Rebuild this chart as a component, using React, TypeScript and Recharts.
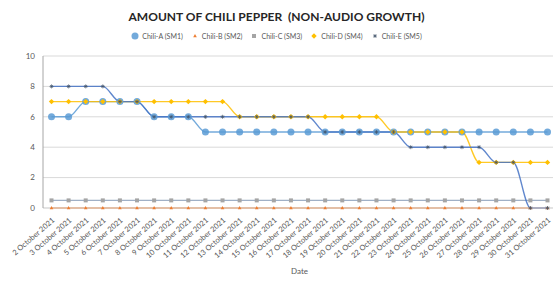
import { CartesianGrid, Line, LineChart, XAxis, YAxis } from "recharts";

const dates = Array.from({ length: 30 }, (_, i) => `${i + 2} October 2021`);

const chiliA = [6, 6, 7, 7, 7, 7, 6, 6, 6, 5, 5, 5, 5, 5, 5, 5, 5, 5, 5, 5, 5, 5, 5, 5, 5, 5, 5, 5, 5, 5];
const chiliB = [0, 0, 0, 0, 0, 0, 0, 0, 0, 0, 0, 0, 0, 0, 0, 0, 0, 0, 0, 0, 0, 0, 0, 0, 0, 0, 0, 0, 0, 0];
const chiliC = [0.5, 0.5, 0.5, 0.5, 0.5, 0.5, 0.5, 0.5, 0.5, 0.5, 0.5, 0.5, 0.5, 0.5, 0.5, 0.5, 0.5, 0.5, 0.5, 0.5, 0.5, 0.5, 0.5, 0.5, 0.5, 0.5, 0.5, 0.5, 0.5, 0.5];
const chiliD = [7, 7, 7, 7, 7, 7, 7, 7, 7, 7, 7, 6, 6, 6, 6, 6, 6, 6, 6, 6, 5, 5, 5, 5, 5, 3, 3, 3, 3, 3];
const chiliE = [8, 8, 8, 8, 7, 7, 6, 6, 6, 6, 6, 6, 6, 6, 6, 6, 5, 5, 5, 5, 5, 4, 4, 4, 4, 4, 3, 3, 0, 0];

const yTicks = [0, 2, 4, 6, 8, 10];

const data = dates.map((date, i) => ({
  date,
  a: chiliA[i],
  b: chiliB[i],
  c: chiliC[i],
  d: chiliD[i],
  e: chiliE[i],
}));

const FONT = "Lato, 'Open Sans', sans-serif";

const series = [
  { key: "a", name: "Chili-A (SM1)", line: "#5B9BD5", mark: "#5B9BD5", shape: "circle" },
  { key: "b", name: "Chili-B (SM2)", line: "#ED7D31", mark: "#ED7D31", shape: "triangle" },
  { key: "c", name: "Chili-C (SM3)", line: "#8FA2BC", mark: "#A5A5A5", shape: "square" },
  { key: "d", name: "Chili-D (SM4)", line: "#FFC000", mark: "#FFC000", shape: "diamond" },
  { key: "e", name: "Chili-E (SM5)", line: "#4472C4", mark: "#44546A", shape: "star" },
];

function marker(shape: string, cx: number, cy: number, color: string, key?: string) {
  if (shape === "circle") return <circle key={key} cx={cx} cy={cy} r={3.5} fill={color} fillOpacity={0.85} />;
  if (shape === "triangle")
    return <path key={key} d={`M${cx},${cy - 2}L${cx + 1.8},${cy + 1.3}L${cx - 1.8},${cy + 1.3}Z`} fill={color} />;
  if (shape === "square")
    return <rect key={key} x={cx - 2} y={cy - 2} width={4} height={4} fill={color} />;
  if (shape === "diamond")
    return <path key={key} d={`M${cx},${cy - 2.7}L${cx + 2.7},${cy}L${cx},${cy + 2.7}L${cx - 2.7},${cy}Z`} fill={color} />;
  return (
    <g key={key} stroke={color} strokeWidth={0.7}>
      <line x1={cx - 2} y1={cy} x2={cx + 2} y2={cy} />
      <line x1={cx} y1={cy - 2} x2={cx} y2={cy + 2} />
      <line x1={cx - 1.4} y1={cy - 1.4} x2={cx + 1.4} y2={cy + 1.4} />
      <line x1={cx - 1.4} y1={cy + 1.4} x2={cx + 1.4} y2={cy - 1.4} />
    </g>
  );
}

export default function App() {
  return (
    <div style={{ position: "absolute", left: 0, top: 0, width: 553, height: 283, overflow: "hidden", background: "#fff", fontFamily: FONT }}>
      <div style={{ position: "absolute", top: 9, left: 0, width: 553, textAlign: "center", fontSize: 12, fontWeight: 700, color: "#262626", whiteSpace: "pre" }}>
        {"AMOUNT OF CHILI PEPPER  (NON-AUDIO GROWTH)"}
      </div>
      <div style={{ position: "absolute", top: 32, left: 0, width: 553, display: "flex", justifyContent: "center", fontSize: 7, color: "#595959" }}>
        {series.map((s) => (
          <div key={s.key} style={{ display: "flex", alignItems: "center", margin: "0 4px" }}>
            <svg width={8} height={8}>{marker(s.shape, 4, 4, s.mark)}</svg>
            <span style={{ marginLeft: 3 }}>{s.name}</span>
          </div>
        ))}
      </div>
      <div style={{ position: "absolute", left: 0, top: 0 }}>
        <LineChart width={556} height={283} data={data} margin={{ top: 56, right: 0, left: 0, bottom: 0 }}>
          <CartesianGrid horizontal vertical={false} stroke="#D9D9D9" />
          <XAxis
            dataKey="date"
            interval={0}
            angle={-41}
            textAnchor="end"
            height={75}
            tickMargin={3}
            padding={{ left: 8.5, right: 8.5 }}
            tick={{ fontSize: 7.5, fill: "#595959", fontFamily: FONT }}
            tickLine={false}
            axisLine={{ stroke: "#D9D9D9" }}
            label={{ value: "Date", position: "insideBottom", offset: 9, fontSize: 8, fill: "#595959", fontFamily: FONT }}
          />
          <YAxis
            width={43}
            domain={[0, 10]}
            ticks={yTicks}
            tickLine={false}
            axisLine={{ stroke: "#A6A6A6" }}
            tick={{ fontSize: 8, fill: "#595959", fontFamily: FONT }}
          />
          {series.map((s) => (
            <Line
              key={s.key}
              dataKey={s.key}
              name={s.name}
              type="monotone"
              stroke={s.line}
              strokeWidth={1.4}
              strokeOpacity={0.85}
              isAnimationActive={false}
              dot={(p: any) => marker(s.shape, p.cx, p.cy, s.mark, `${s.key}-${p.index}`)}
              activeDot={false}
            />
          ))}
        </LineChart>
      </div>
    </div>
  );
}
